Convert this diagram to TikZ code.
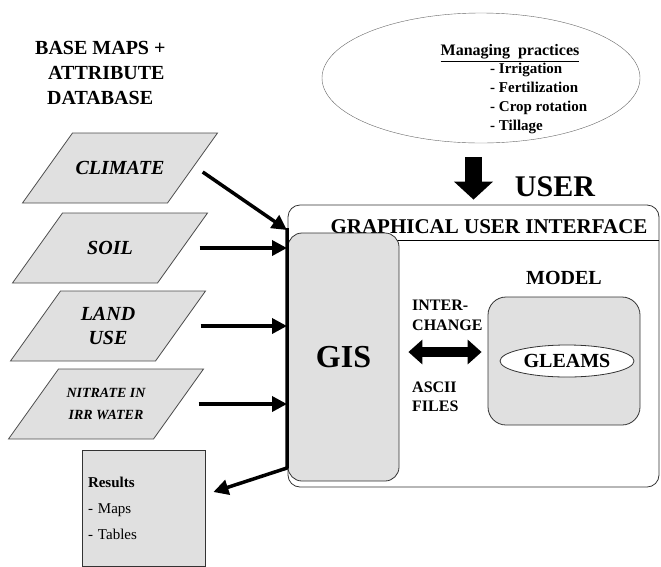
\documentclass[tikz,border=0pt]{standalone}
\usepackage{fontspec}
\setmainfont{Liberation Serif}
\usetikzlibrary{shapes.geometric,arrows.meta,positioning}

% one slanted map layer: [text options]{name}{centre}{text}
\newcommand{\maplayer}[4][]{%
  \filldraw[layerframe] (#3) ++(-97.5,35) -- ++(145,0) -- ++(50,-70) -- ++(-145,0) -- cycle;
  \node[layertext,#1] (#2) at (#3) {#4};}

\begin{document}
\begin{tikzpicture}[x=1pt, y=-1pt,
    layerframe/.style={draw=black!70, fill=black!12, line width=0.8pt},
    layertext/.style={minimum width=145pt, minimum height=70pt, inner sep=0pt, align=center,
        font=\fontsize{20}{24}\selectfont\bfseries\itshape},
    box/.style={draw=black!80, fill=black!12, line width=0.8pt, rounded corners=14pt},
    heading/.style={font=\fontsize{20}{24}\selectfont\bfseries, inner sep=0pt},
    feed/.style={line width=3.5pt, line join=round, -{Triangle[length=15pt,width=15pt]}}]
    \useasboundingbox (0,0) rectangle (661,566);

    % base maps and attribute layers
    \node[heading, anchor=west] (base)  at (35,48) {BASE MAPS +};
    \node[heading, anchor=west] (attr)  at (48,73) {ATTRIBUTE};
    \node[heading, anchor=west] (dbase) at (47,98) {DATABASE};

    \maplayer{climate}{120,168}{CLIMATE}
    \maplayer{soil}{110,248}{SOIL}
    \maplayer{landuse}{108,326}{LAND\\USE}
    \maplayer[font=\fontsize{14}{22}\selectfont\bfseries\itshape]{nitrate}{106,404}{NITRATE IN\\IRR WATER}

    \node[draw=black!80, fill=black!12, line width=0.8pt, minimum width=123pt,
          minimum height=116pt, text width=111pt, align=left,
          font=\fontsize{15}{26}\selectfont] (results) at (143.5,508)
          {\textbf{Results}\\- Maps\\- Tables};

    % managing practices
    \node[ellipse, draw=black!60, minimum width=318pt, minimum height=130pt] (mgmt) at (481,78) {};
    \node[font=\fontsize{16}{19}\selectfont\bfseries, inner sep=0pt] (mtitle) at (510,53)
        {\underline{Managing\ \ practices}};
    \node[font=\fontsize{15}{19}\selectfont\bfseries, align=left, anchor=west, inner sep=0pt]
        (mlist) at (490,98) {- Irrigation\\- Fertilization\\- Crop rotation\\- Tillage};

    % user interface
    \node[draw=black!80, line width=0.8pt, rounded corners=12pt,
          minimum width=371pt, minimum height=282pt] (gui) at (473.5,346) {};
    \node[font=\fontsize{21}{21}\selectfont\bfseries, inner sep=0pt] (guititle) at (489,227)
        {GRAPHICAL USER INTERFACE};
    \coordinate (rule) at (0,240);
    \draw[line width=0.8pt] (gui.west |- rule) -- (gui.east |- rule);

    \draw[line width=17pt, -{Triangle[length=18pt,width=38pt]},
          shorten <=14pt, shorten >=5pt] (mgmt.south -| gui.north) -- (gui.north);
    \node[font=\fontsize{30}{30}\selectfont\bfseries, inner sep=0pt] (user) at (555,187) {USER};

    \node[box, minimum width=111pt, minimum height=248pt,
          font=\fontsize{32}{32}\selectfont\bfseries] (gis) at (343.5,357) {GIS};

    \node[box, rounded corners=18pt, minimum width=152pt, minimum height=128pt] (model) at (564,361) {};
    \node[heading, above=12pt of model] (modellabel) {MODEL};
    \node[ellipse, draw=black!80, fill=white, line width=0.8pt, minimum width=134pt,
          minimum height=32pt, inner sep=0pt, font=\fontsize{20}{20}\selectfont\bfseries]
          (gleams) at (567,361) {GLEAMS};

    \node[font=\fontsize{16}{20}\selectfont\bfseries, align=left, anchor=west, inner sep=0pt]
        (inter) at (412,315) {INTER-\\CHANGE};
    \node[font=\fontsize{16}{19}\selectfont\bfseries, align=left, anchor=west, inner sep=0pt]
        (ascii) at (412,397) {ASCII\\FILES};
    \draw[line width=10pt, {Triangle[length=14pt,width=24pt]}-{Triangle[length=14pt,width=24pt]},
          shorten <=9pt, shorten >=6pt] ([yshift=5pt]gis.east) -- ([yshift=5pt]gis.east -| model.west);

    % inputs into the GIS
    \coordinate (bartop) at (287,228);
    \coordinate (barbot) at (287,468);
    \draw[feed] (bartop) -- (barbot) -- ([xshift=8pt,yshift=16pt]results.east);
    \draw[feed] ([xshift=10pt,yshift=-4pt]climate.east) -- ([yshift=-2pt]bartop);
    \draw[feed] ([xshift=17pt]soil.east) -- (soil.east -| bartop);
    \draw[feed] ([xshift=20pt]landuse.east) -- (landuse.east -| bartop);
    \draw[feed] ([xshift=20pt]nitrate.east) -- (nitrate.east -| bartop);
\end{tikzpicture}
\end{document}
